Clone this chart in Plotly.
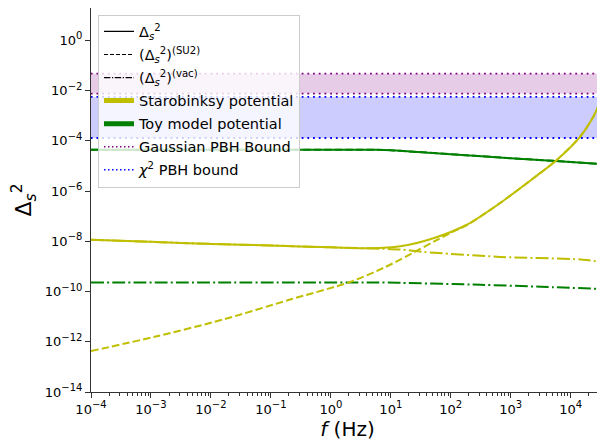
import plotly.graph_objects as go

# ---------------- data ----------------
# Starobinsky potential
f_star_total = [1e-4, 1e-3, 1e-2, 1e-1, 1.0, 4.47, 14.3, 51.3, 185, 661, 2380, 5850, 14300, 23800, 36000]
d_star_total = [1.15e-8, 9.5e-9, 7.9e-9, 6.8e-9, 5.75e-9, 5.25e-9, 6.3e-9, 1.33e-8, 4.57e-8,
                3.31e-7, 3.24e-6, 1.74e-5, 1.45e-4, 9.1e-4, 7.5e-3]

f_star_su2 = [1e-4, 1.26e-3, 1.62e-2, 0.209, 2.09, 7.53, 14.3, 97.7, 185, 661, 2380, 5850, 14300, 23800, 36000]
d_star_su2 = [4.27e-13, 1.66e-12, 7.76e-12, 4.79e-11, 2.40e-10, 8.71e-10, 1.86e-9, 2.14e-8, 4.4e-8,
              3.31e-7, 3.24e-6, 1.74e-5, 1.45e-4, 9.1e-4, 7.5e-3]

f_star_vac = [1e-4, 1e-3, 1e-2, 1e-1, 1.0, 14.3, 34.7, 661, 16000, 36000]
d_star_vac = [1.15e-8, 9.5e-9, 7.9e-9, 6.8e-9, 5.75e-9, 4.7e-9, 3.8e-9, 2.4e-9, 1.86e-9, 1.45e-9]

# Toy model potential
f_toy_total = [1e-4, 1e-2, 1.0, 3.16, 5.6, 10.0, 14.3, 100, 1000, 10000, 36000]
d_toy_total = [4.45e-5, 4.45e-5, 4.45e-5, 4.45e-5, 4.43e-5, 4.25e-5, 4.0e-5, 2.95e-5, 2.04e-5, 1.45e-5, 1.17e-5]

f_toy_su2 = f_toy_total
d_toy_su2 = d_toy_total

f_toy_vac = [1e-4, 1.0, 5.6, 14.3, 316, 3160, 36000]
d_toy_vac = [2.3e-10, 2.3e-10, 2.3e-10, 2.22e-10, 1.86e-10, 1.55e-10, 1.26e-10]

# PBH bounds (horizontal bands)
gauss_bound = [7.6e-3, 4.75e-2]
chi2_bound = [1.3e-4, 5.6e-3]

# ticks
SUP = '<sup><span style="font-size:10px">{}</span></sup>'
x_tickvals = [1e-4, 1e-3, 1e-2, 1e-1, 1e0, 1e1, 1e2, 1e3, 1e4]
x_tickexp = ["−4", "−3", "−2", "−1", "0", "1", "2", "3", "4"]
y_tickvals = [1e-14, 1e-12, 1e-10, 1e-8, 1e-6, 1e-4, 1e-2, 1e0]
y_tickexp = ["−14", "−12", "−10", "−8", "−6", "−4", "−2", "0"]
x_ticktext = ["10" + SUP.format(e) for e in x_tickexp]
y_ticktext = ["10" + SUP.format(e) for e in y_tickexp]
x_minor = [m * 10.0 ** k for k in range(-5, 5) for m in range(2, 10)]

# ---------------- styles ----------------
YEL = "#bfbf00"
GRN = "#008000"
PUR = "#800080"
BLU = "#0000ff"
DASH = "7.4px,3.2px"
DASHDOT = "12.8px,3.2px,2px,3.2px"
DOT = "1.8px,3.9px"
FONT = "DejaVu Sans"

fig = go.Figure()

XFILL = [1e-6, 1e6, 1e6, 1e-6, 1e-6]


def band(lo, hi, fillcolor, linecolor):
    fig.add_trace(go.Scatter(x=XFILL, y=[lo, lo, hi, hi, lo], fill="toself", fillcolor=fillcolor,
                             mode="lines", line=dict(width=0), showlegend=False, hoverinfo="skip"))
    for v in (lo, hi):
        fig.add_trace(go.Scatter(x=[1e-6, 1e6], y=[v, v], mode="lines",
                                 line=dict(color=linecolor, width=1.8, dash=DOT),
                                 showlegend=False, hoverinfo="skip"))


band(gauss_bound[0], gauss_bound[1], "rgba(128,0,128,0.2)", PUR)
band(chi2_bound[0], chi2_bound[1], "rgba(0,0,255,0.2)", BLU)


def curve(x, y, color, dash):
    fig.add_trace(go.Scatter(x=x, y=y, mode="lines",
                             line=dict(color=color, width=2, dash=dash, shape="spline", smoothing=0.8),
                             showlegend=False))


curve(f_toy_su2, d_toy_su2, GRN, DASH)
curve(f_toy_vac, d_toy_vac, GRN, DASHDOT)
curve(f_toy_total, d_toy_total, GRN, "solid")
curve(f_star_su2, d_star_su2, YEL, DASH)
curve(f_star_vac, d_star_vac, YEL, DASHDOT)
curve(f_star_total, d_star_total, YEL, "solid")

# legend entries
DS = "Δ<sub><i>s</i></sub><sup>2</sup>"
legend_items = [
    (DS, "black", 1.2, "solid"),
    ("(" + DS + ")<sup>(SU2)</sup>", "black", 1.2, "4px,2px"),
    ("(" + DS + ")<sup>(vac)</sup>", "black", 1.2, "6.4px,1.6px,1.2px,1.6px"),
    ("Starobinksy potential", YEL, 5, "solid"),
    ("Toy model potential", GRN, 5, "solid"),
    ("Gaussian PBH Bound", PUR, 1.5, "1.5px,2.5px"),
    ("<i>χ</i><sup>2</sup> PBH bound", BLU, 1.5, "1.5px,2.5px"),
]
for i, (name, color, w, dash) in enumerate(legend_items):
    fig.add_trace(go.Scatter(x=[None], y=[None], mode="lines", name=name, legendgroup="g%d" % i,
                             line=dict(color=color, width=w, dash=dash)))

AX = "#333333"
# the page body has an 8px margin, so the figure is drawn 8px lower and to the right
fig.update_layout(
    width=597, height=433,
    margin=dict(l=83, r=1, t=0, b=49, autoexpand=False),
    paper_bgcolor="white", plot_bgcolor="white",
    font=dict(family=FONT, color="black"),
    xaxis=dict(type="log", range=[-4, 4.555], tickmode="array", tickvals=x_tickvals, ticktext=x_ticktext,
               ticks="outside", ticklen=5, tickwidth=1, tickcolor=AX, showline=True, linecolor=AX,
               linewidth=1, mirror=True, showgrid=False, zeroline=False, automargin=False,
               tickfont=dict(size=13, family=FONT),
               minor=dict(tickmode="array", tickvals=x_minor, ticks="outside", ticklen=3, tickwidth=0.8,
                          tickcolor=AX, showgrid=False),
               title=dict(text="<i>f</i> (Hz)", font=dict(size=20, family=FONT), standoff=4)),
    yaxis=dict(type="log", range=[-14, 1.29], tickmode="array", tickvals=y_tickvals, ticktext=y_ticktext,
               ticks="outside", ticklen=5, tickwidth=1, tickcolor=AX, showline=True, linecolor=AX,
               linewidth=1, mirror=True, showgrid=False, zeroline=False, automargin=False,
               tickfont=dict(size=13, family=FONT),
               title=dict(text=DS, font=dict(size=22, family=FONT), standoff=8)),
    legend=dict(x=0.0136, y=0.983, xanchor="left", yanchor="top", bgcolor="rgba(255,255,255,0.8)",
                bordercolor="#cccccc", borderwidth=1, font=dict(size=14.5, family=FONT),
                itemwidth=30, tracegroupgap=1.2),
)

fig.write_html("out.html")
